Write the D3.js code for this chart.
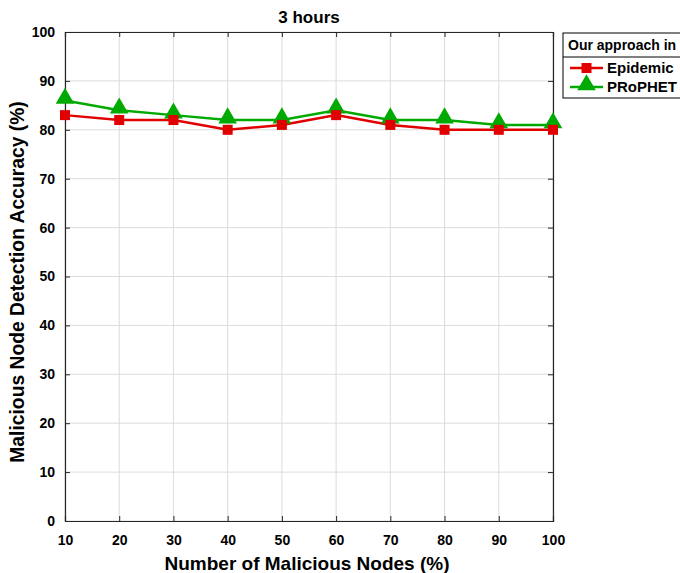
<!DOCTYPE html>
<html>
<head>
<meta charset="utf-8">
<script src="https://cdn.jsdelivr.net/npm/d3@7"></script>
<style>
  body { margin: 0; background: #fff; }
  text { font-family: "Liberation Sans", Arial, sans-serif; font-weight: bold; }
</style>
</head>
<body>
<svg id="chart" width="680" height="573"></svg>
<script>
const nodesPct = [10, 20, 30, 40, 50, 60, 70, 80, 90, 100];
const epidemic = [83, 82, 82, 80, 81, 83, 81, 80, 80, 80];
const prophet = [86, 84, 83, 82, 82, 84, 82, 82, 81, 81];
const yTicks = [0, 10, 20, 30, 40, 50, 60, 70, 80, 90, 100];

const svg = d3.select("#chart");
const plotL = 65, plotR = 553, plotT = 32, plotB = 521;

const x = d3.scaleLinear().domain([10, 100]).range([plotL, plotR]);
const y = d3.scaleLinear().domain([0, 100]).range([plotB, plotT]);

// grid
svg.append("g").selectAll("line").data(nodesPct).join("line")
    .attr("x1", d => x(d)).attr("x2", d => x(d))
    .attr("y1", plotT).attr("y2", plotB)
    .attr("stroke", "#dcdcdc").attr("stroke-width", 1);
svg.append("g").selectAll("line").data(yTicks).join("line")
    .attr("x1", plotL).attr("x2", plotR)
    .attr("y1", d => y(d)).attr("y2", d => y(d))
    .attr("stroke", "#dcdcdc").attr("stroke-width", 1);

// axes (ticks pointing inward, MATLAB style)
svg.append("g").attr("transform", `translate(0,${plotB})`)
    .call(d3.axisBottom(x).tickValues(nodesPct).tickSize(-5).tickPadding(14));
svg.append("g").attr("transform", `translate(${plotL},0)`)
    .call(d3.axisLeft(y).tickValues(yTicks).tickSize(-5).tickPadding(10));
svg.append("g").attr("transform", `translate(0,${plotT})`)
    .call(d3.axisTop(x).tickValues(nodesPct).tickSize(-5).tickFormat(""));
svg.append("g").attr("transform", `translate(${plotR},0)`)
    .call(d3.axisRight(y).tickValues(yTicks).tickSize(-5).tickFormat(""));

svg.selectAll(".domain").attr("stroke", "#262626").attr("stroke-width", 1.2);
svg.selectAll(".tick line").attr("stroke", "#262626");
svg.selectAll(".tick text").attr("font-size", 14).attr("fill", "#000")
    .style("font-family", "Liberation Sans, Arial, sans-serif").style("font-weight", "bold");

// lines
const line = d3.line().x((d, i) => x(nodesPct[i])).y(d => y(d));
svg.append("path").datum(prophet).attr("d", line)
    .attr("fill", "none").attr("stroke", "#00aa00").attr("stroke-width", 2.5);
svg.append("path").datum(epidemic).attr("d", line)
    .attr("fill", "none").attr("stroke", "#e00000").attr("stroke-width", 2.5);

const tri = d3.symbol().type(d3.symbolTriangle).size(150);
svg.append("g").selectAll("path").data(prophet).join("path")
    .attr("d", tri)
    .attr("transform", (d, i) => `translate(${x(nodesPct[i])},${y(d) - 2})`)
    .attr("fill", "#00aa00");
svg.append("g").selectAll("rect").data(epidemic).join("rect")
    .attr("x", (d, i) => x(nodesPct[i]) - 5).attr("y", d => y(d) - 5)
    .attr("width", 10).attr("height", 10)
    .attr("fill", "#e00000");

// labels
svg.append("text").attr("x", (plotL + plotR) / 2).attr("y", 23)
    .attr("text-anchor", "middle").attr("font-size", 17).text("3 hours");
svg.append("text").attr("x", 307).attr("y", 570)
    .attr("text-anchor", "middle").attr("font-size", 19)
    .text("Number of Malicious Nodes (%)");
svg.append("text")
    .attr("transform", `translate(24,282) rotate(-90)`)
    .attr("text-anchor", "middle").attr("font-size", 19.3)
    .text("Malicious Node Detection Accuracy (%)");

// legend
const lg = svg.append("g").attr("transform", "translate(563,33)");
lg.append("rect").attr("x", 0).attr("y", 0).attr("width", 130).attr("height", 65)
    .attr("fill", "#fff").attr("stroke", "#000").attr("stroke-width", 1);
lg.append("line").attr("x1", 0).attr("x2", 130).attr("y1", 24).attr("y2", 24)
    .attr("stroke", "#000");
lg.append("text").attr("x", 5).attr("y", 17).attr("font-size", 14).text("Our approach in");
const items = [
  { name: "Epidemic", color: "#e00000", shape: "square" },
  { name: "PRoPHET", color: "#00aa00", shape: "triangle" }
];
items.forEach((it, i) => {
  const cy = 35 + i * 19;
  lg.append("line").attr("x1", 7).attr("x2", 40).attr("y1", cy).attr("y2", cy)
      .attr("stroke", it.color).attr("stroke-width", 2.5);
  if (it.shape === "square") {
    lg.append("rect").attr("x", 18.5).attr("y", cy - 5).attr("width", 10).attr("height", 10)
        .attr("fill", it.color);
  } else {
    lg.append("path").attr("d", tri).attr("transform", `translate(23.5,${cy - 2})`)
        .attr("fill", it.color);
  }
  lg.append("text").attr("x", 44).attr("y", cy + 5).attr("font-size", 15).text(it.name);
});
</script>
</body>
</html>
